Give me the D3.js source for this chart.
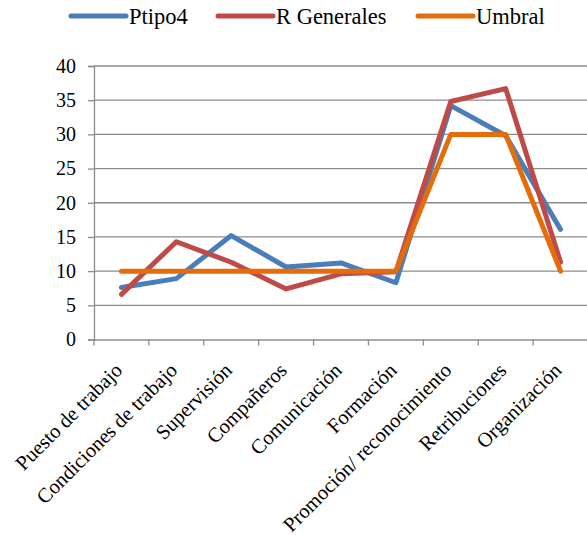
<!DOCTYPE html>
<html><head><meta charset="utf-8">
<script src="https://cdn.jsdelivr.net/npm/d3@7"></script>
<style>body{margin:0;background:#fff}svg{display:block}</style>
</head><body><svg id="c" width="587" height="535" font-family="'Liberation Serif', 'Times New Roman', 'DejaVu Serif', serif"></svg>
<script>
const categories = ["Puesto de trabajo","Condiciones de trabajo","Supervisión","Compañeros","Comunicación","Formación","Promoción/ reconocimiento","Retribuciones","Organización"];
const ptipo4 = [7.6, 8.9, 15.2, 10.6, 11.2, 8.3, 34.2, 29.8, 16.1];
const rGenerales = [6.6, 14.3, 11.3, 7.4, 9.6, 9.9, 34.8, 36.7, 11.3];
const umbral = [10, 10, 10, 10, 10, 10, 30, 30, 10];
const yTicks = [0, 5, 10, 15, 20, 25, 30, 35, 40];
const seriesNames = ["Ptipo4", "R Generales", "Umbral"];
const colors = ["#4A7EBB", "#BE4B48", "#E46C0A"];

(function(){
const FONT = "'Liberation Serif', 'Times New Roman', 'DejaVu Serif', serif";
const svg = d3.select("#c");
const mL = 94, mR = 588, mT = 66, mB = 339.5;
const x = d3.scaleBand().domain(categories).range([mL, mR]);
const y = d3.scaleLinear().domain([0, 40]).range([mB, mT]);

// gridlines
svg.append("g").selectAll("line").data(yTicks.filter(d => d > 0)).join("line")
  .attr("x1", mL).attr("x2", mR).attr("y1", d => y(d)).attr("y2", d => y(d))
  .attr("stroke", "#8c8c8c").attr("stroke-width", 1.3);

// y axis
const ya = svg.append("g").attr("transform", `translate(${mL},0)`)
  .call(d3.axisLeft(y).tickValues(yTicks).tickSize(6).tickPadding(12));
ya.attr("font-family", FONT);
ya.select(".domain").attr("stroke", "#8c8c8c").attr("stroke-width", 1.3);
ya.selectAll(".tick line").attr("stroke", "#8c8c8c").attr("stroke-width", 1.3);
ya.selectAll(".tick text").attr("font-size", 20).attr("font-family", FONT).attr("fill", "#000");

// x axis
const xa = svg.append("g").attr("transform", `translate(0,${mB})`)
  .call(d3.axisBottom(x).tickSize(0).tickFormat(""));
xa.attr("font-family", FONT);
xa.select(".domain").attr("stroke", "#8c8c8c").attr("stroke-width", 1.3);
const bounds = categories.map(c => x(c)).concat([mR]);
xa.append("g").selectAll("line").data(bounds).join("line")
  .attr("x1", d => d).attr("x2", d => d).attr("y1", 0).attr("y2", 6)
  .attr("stroke", "#8c8c8c").attr("stroke-width", 1.3);
xa.append("g").selectAll("text").data(categories).join("text")
  .attr("transform", d => `translate(${x(d) + x.bandwidth()/2 - 3},${27}) rotate(-45)`)
  .attr("text-anchor", "end").attr("font-size", 20.5).attr("font-family", FONT).attr("fill", "#000")
  .attr("dy", "0.35em").text(d => d);

// lines
const line = d3.line().x((d, i) => x(categories[i]) + x.bandwidth()/2).y(d => y(d));
[ptipo4, rGenerales, umbral].forEach((s, k) => {
  svg.append("path").datum(s).attr("d", line).attr("fill", "none")
    .attr("stroke", colors[k]).attr("stroke-width", 5).attr("stroke-linejoin", "round").attr("stroke-linecap", "round");
});

// legend
const legX = [71, 218, 418];
const lg = svg.append("g");
seriesNames.forEach((n, i) => {
  lg.append("line").attr("x1", legX[i]).attr("x2", legX[i] + 55).attr("y1", 16).attr("y2", 16)
    .attr("stroke", colors[i]).attr("stroke-width", 5).attr("stroke-linecap", "round");
  lg.append("text").attr("x", legX[i] + 58).attr("y", 16).attr("dy", "0.35em")
    .attr("font-size", 22.5).attr("font-family", FONT).attr("fill", "#000").text(n);
});
})();
</script></body></html>
